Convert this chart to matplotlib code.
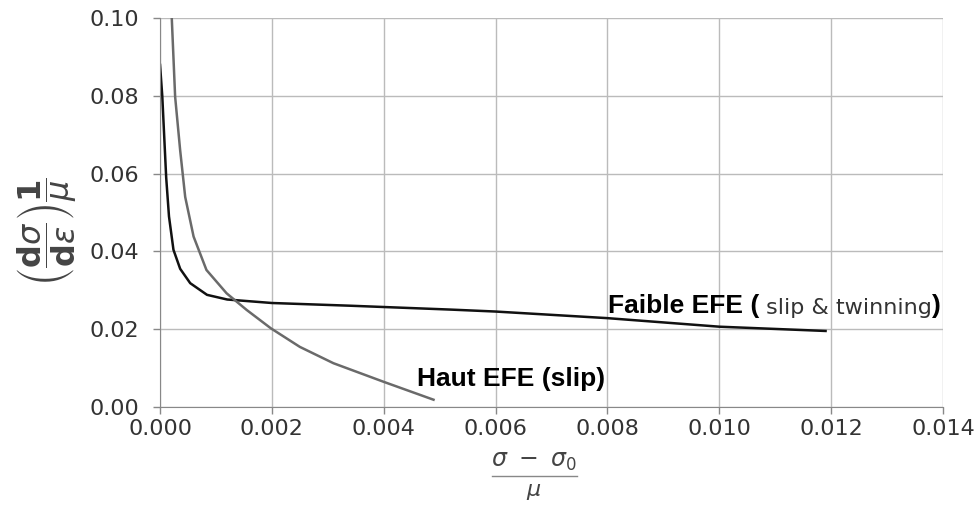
import matplotlib.pyplot as plt
from matplotlib.lines import Line2D

# values
faible_x = [0, 0.00004, 0.00008, 0.00011, 0.00016, 0.00024, 0.00036, 0.00054,
            0.00084, 0.0012, 0.002, 0.0034, 0.0052, 0.006, 0.008, 0.010, 0.0119]
faible_y = [0.088, 0.080, 0.068, 0.059, 0.049, 0.0404, 0.0355, 0.0318,
            0.0288, 0.0276, 0.0267, 0.0260, 0.0250, 0.0245, 0.0228, 0.0206, 0.0195]

haut_x = [0.00021, 0.00027, 0.00036, 0.00045, 0.0006, 0.00083, 0.00119,
          0.00155, 0.00198, 0.0025, 0.0031, 0.004, 0.00489]
haut_y = [0.100, 0.0798, 0.066, 0.054, 0.0438, 0.0352, 0.0292,
          0.0249, 0.0202, 0.0154, 0.0112, 0.0064, 0.0018]

xticks = [0.000, 0.002, 0.004, 0.006, 0.008, 0.010, 0.012, 0.014]
yticks = [0.00, 0.02, 0.04, 0.06, 0.08, 0.10]

W, H = 977, 508
fig = plt.figure(figsize=(9.77, 5.08), dpi=100)
ax = fig.add_axes([0.1638, 0.1994, 0.8014, 0.7646])

ax.plot(faible_x, faible_y, color='#111111', lw=1.8)
ax.plot(haut_x, haut_y, color='#6a6a6a', lw=1.8)

ax.set_xlim(0, 0.014)
ax.set_ylim(0, 0.10)
ax.set_xticks(xticks)
ax.set_yticks(yticks)
ax.set_xticklabels(['%.3f' % v for v in xticks])
ax.set_yticklabels(['%.2f' % v for v in yticks])
ax.tick_params(labelsize=16, colors='#888888', labelcolor='#333333',
               length=5, width=1)
ax.tick_params(axis='y', pad=10)
ax.tick_params(axis='x', pad=4)
ax.grid(True, color='#bbbbbb', lw=1)
for s in ['top', 'right']:
    ax.spines[s].set_visible(False)
for s in ['left', 'bottom']:
    ax.spines[s].set_color('#888888')

# annotations: bold parts and the regular inner text
t1 = ax.text(0.00801, 0.02405, 'Faible EFE (', family='Liberation Sans',
             weight='bold', fontsize=19, va='baseline', ha='left')
t2 = ax.annotate(' slip & twinning', xy=(1, 0), xycoords=t1, va='bottom',
                 ha='left', fontsize=16, color='#333333')
ax.annotate(')', xy=(1, 0), xycoords=t2, va='bottom', ha='left',
            family='Liberation Sans', weight='bold', fontsize=19)
ax.text(0.00459, 0.00533, 'Haut EFE (slip)', family='Liberation Sans',
        weight='bold', fontsize=19, va='baseline', ha='left')

# x label drawn as a fraction: numerator, bar, denominator
fig.text(534 / W, 1 - 461 / H, r'$\sigma\ -\ \sigma_0$',
         fontsize=17, color='#444444', ha='center', va='center')
fig.add_artist(Line2D([492 / W, 577 / W], [1 - 476 / H, 1 - 476 / H],
                      color='#888888', lw=1))
fig.text(534 / W, 1 - 492 / H, r'$\mu$',
         fontsize=16, color='#444444', ha='center', va='center')

fig.text(47 / W, 1 - 232 / H,
         r'$\left(\dfrac{\mathbf{d}\sigma}{\mathbf{d}\varepsilon}\right)\dfrac{\mathbf{1}}{\mu}$',
         fontsize=23, color='#444444', ha='center', va='center', rotation=90)

fig.savefig('out.png', dpi=100)
